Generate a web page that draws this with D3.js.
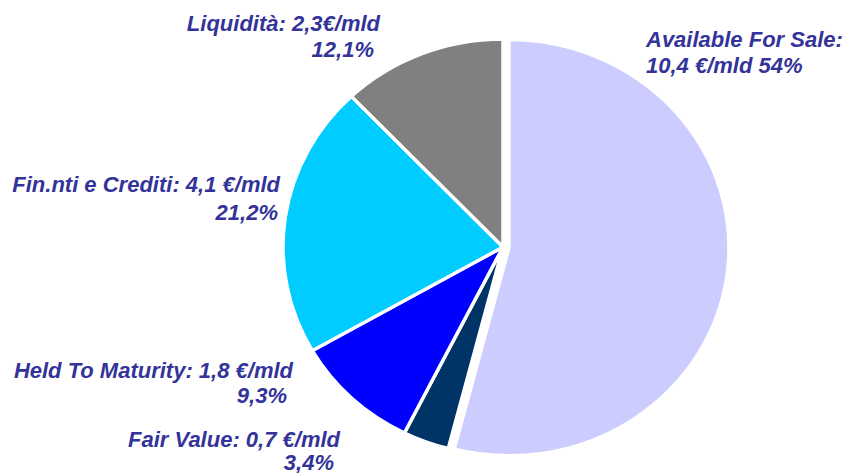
<!DOCTYPE html>
<html>
<head>
<meta charset="utf-8">
<script src="https://cdn.jsdelivr.net/npm/d3@7"></script>
<style>
  body { margin: 0; background: #fff; }
  svg text { font-family: "Liberation Sans", Arial, sans-serif; font-weight: bold; font-style: italic; fill: #333399; }
</style>
</head>
<body>
<svg id="chart" width="843" height="473"></svg>
<script>
// slices clockwise from 12 o'clock
const categories = ["Available For Sale", "Fair Value", "Held To Maturity", "Fin.nti e Crediti", "Liquidità"];
const shares = [54, 3.4, 9.3, 21.2, 12.1];
const colors = ["#CCCCFF", "#003366", "#0000FF", "#00CCFF", "#808080"];
const labelLines = [
    ["Available For Sale:", "10,4 €/mld 54%"],
    ["Fair Value: 0,7 €/mld", "3,4%"],
    ["Held To Maturity: 1,8 €/mld", "9,3%"],
    ["Fin.nti e Crediti: 4,1 €/mld", "21,2%"],
    ["Liquidità: 2,3€/mld", "12,1%"]
];

(function() {
    const svg = d3.select("#chart");
    const cx = 503, cy = 247, rx = 220, ry = 208;

    const pie = d3.pie().sort(null).value(d => d.v);
    const arc = d3.arc().innerRadius(0).outerRadius(rx);
    const slices = pie(categories.map((c, i) => ({ c, v: shares[i], color: colors[i] })));

    const g = svg.append("g")
        .attr("transform", `translate(${cx},${cy}) scale(1,${ry / rx})`);

    g.selectAll("path")
        .data(slices)
        .join("path")
        .attr("d", arc)
        .attr("transform", (d, i) => {
            if (i !== 0) return null;
            const a = (d.startAngle + d.endAngle) / 2;
            return `translate(${6 * Math.sin(a)},${-6 * Math.cos(a)})`;
        })
        .attr("fill", d => d.data.color)
        .attr("stroke", "#fff")
        .attr("stroke-width", 3.5)
        .attr("stroke-linejoin", "miter");

    // label placement: [anchor, x line1, x line2, baseline line1, baseline line2]
    const labelPos = [
        ["start", 646, 646, 47, 73],
        ["end", 340, 334, 447, 470],
        ["end", 293, 287, 378, 403],
        ["end", 280, 278, 192, 220],
        ["end", 380, 374, 31, 57]
    ];

    const labels = svg.append("g").selectAll("g")
        .data(labelLines)
        .join("g");

    labels.each(function(lines, i) {
        const p = labelPos[i];
        const sel = d3.select(this);
        lines.forEach((t, j) => {
            sel.append("text")
                .attr("text-anchor", p[0])
                .attr("x", p[1 + j])
                .attr("y", p[3 + j])
                .attr("font-size", 22)
                .text(t);
        });
    });
})();
</script>
</body>
</html>
